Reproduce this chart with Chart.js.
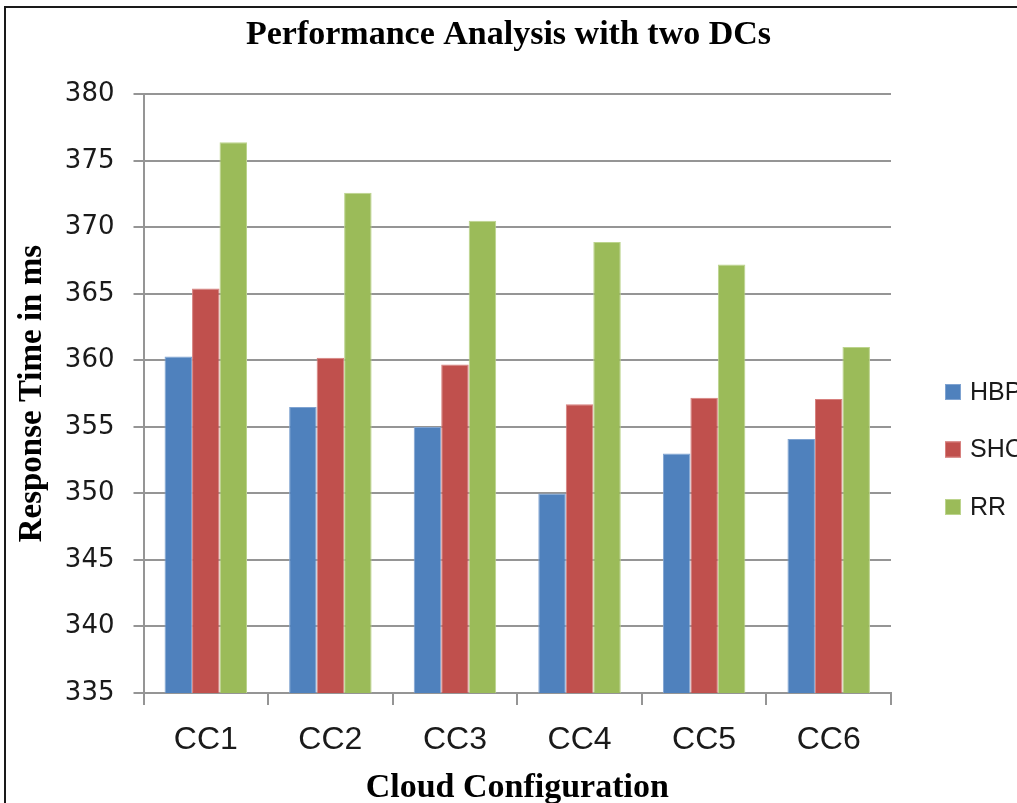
<!DOCTYPE html>
<html>
<head>
<meta charset="utf-8">
<script src="https://cdn.jsdelivr.net/npm/chart.js@4"></script>
<style>
  html, body { margin: 0; padding: 0; background: #fff; overflow: hidden; }
  canvas { display: block; }
</style>
</head>
<body>
<canvas id="chart" width="1017" height="803"></canvas>
<script>
const categories = ['CC1', 'CC2', 'CC3', 'CC4', 'CC5', 'CC6'];
const hbp = [360.3, 356.5, 355.0, 350.0, 353.0, 354.1];
const shc = [365.4, 360.2, 359.7, 356.7, 357.2, 357.1];
const rr  = [376.4, 372.6, 370.5, 368.9, 367.2, 361.0];
const seriesNames = ['HBP', 'SHC', 'RR'];
const yMin = 335, yMax = 380, yStep = 5;

const fills = ['#4F81BD', '#C0504D', '#9BBB59'];
const edges = ['#7fa3d1', '#d7807e', '#bcd48d'];
const gridGray = '#959595';
const serif = '"Liberation Serif", "Times New Roman", serif';
const sans = '"Liberation Sans Narrow", "Liberation Sans", Arial, sans-serif';

// White page with a dark frame along the top and left edges
const pageFrame = {
  id: 'pageFrame',
  beforeDraw(chart) {
    const ctx = chart.ctx;
    ctx.save();
    ctx.fillStyle = '#fff';
    ctx.fillRect(0, 0, chart.width, chart.height);
    ctx.strokeStyle = '#1a1a1a';
    ctx.lineWidth = 2;
    ctx.beginPath();
    ctx.moveTo(5, chart.height);
    ctx.lineTo(5, 7);
    ctx.lineTo(chart.width, 7);
    ctx.stroke();
    ctx.restore();
  }
};

// Legend drawn to the right of the plot, one row per series
const sideLegend = {
  id: 'sideLegend',
  afterDraw(chart) {
    const ctx = chart.ctx;
    const x0 = 945, yStart = 392, gap = 57.5, box = 16;
    ctx.save();
    ctx.font = '25px ' + sans;
    ctx.textBaseline = 'middle';
    chart.data.datasets.forEach((ds, i) => {
      const yc = yStart + i * gap;
      ctx.fillStyle = ds.backgroundColor;
      ctx.fillRect(x0, yc - box / 2, box, box);
      ctx.strokeStyle = ds.borderColor;
      ctx.lineWidth = 1;
      ctx.strokeRect(x0 + 0.5, yc - box / 2 + 0.5, box - 1, box - 1);
      ctx.fillStyle = '#1a1a1a';
      ctx.fillText(ds.label, x0 + 25, yc + 1);
    });
    ctx.restore();
  }
};

const seriesData = [hbp, shc, rr];
new Chart(document.getElementById('chart'), {
  type: 'bar',
  data: {
    labels: categories,
    datasets: seriesNames.map((name, i) => ({
      label: name,
      data: seriesData[i],
      backgroundColor: fills[i],
      borderColor: edges[i],
      borderWidth: 1,
      barPercentage: 1.0,
      categoryPercentage: 0.662
    }))
  },
  options: {
    responsive: false,
    animation: false,
    devicePixelRatio: 1,
    layout: { padding: 0 },
    plugins: {
      legend: { display: false },
      tooltip: { enabled: false },
      title: {
        display: true,
        text: 'Performance Analysis with two DCs',
        color: '#000',
        font: { family: serif, size: 34, weight: 'bold', lineHeight: 1.2 },
        padding: { top: 14.6, bottom: 38.9 }
      }
    },
    scales: {
      x: {
        offset: true,
        grid: { display: true, drawOnChartArea: false, drawTicks: true, tickLength: 12,
                color: gridGray, lineWidth: 2, offset: true },
        border: { display: true, color: gridGray, width: 2 },
        ticks: { color: '#1a1a1a', padding: 16, font: { family: sans, size: 32 } },
        title: {
          display: true, text: 'Cloud Configuration', color: '#000',
          font: { family: serif, size: 34, weight: 'bold', lineHeight: 1.0 },
          padding: { top: 0, bottom: -2 }
        },
        afterFit(scale) { scale.height = 110; }
      },
      y: {
        min: yMin, max: yMax,
        grid: { color: gridGray, lineWidth: 2, drawTicks: true, tickLength: 10 },
        border: { display: true, color: gridGray, width: 2 },
        ticks: { stepSize: yStep, color: '#1a1a1a', padding: 19,
                 font: { family: '"DejaVu Sans", Verdana, sans-serif', size: 26 } },
        title: {
          display: true, text: 'Response Time in ms', color: '#000',
          font: { family: serif, size: 33, weight: 'bold', lineHeight: 1.2 },
          padding: { top: 13, bottom: 0 }
        },
        afterFit(scale) { scale.width = 143.5; }
      },
      // empty right-hand band that holds the legend area
      legendBand: {
        type: 'linear', position: 'right', display: true,
        grid: { display: false }, border: { display: false },
        ticks: { display: false },
        afterFit(scale) { scale.width = 126; }
      }
    }
  },
  plugins: [pageFrame, sideLegend]
});
</script>
</body>
</html>
